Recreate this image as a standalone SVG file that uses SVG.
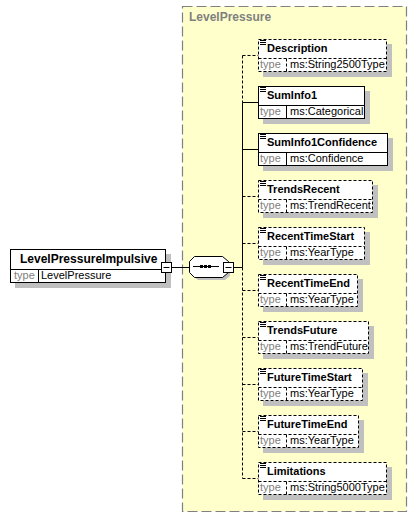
<svg xmlns="http://www.w3.org/2000/svg" width="417" height="517" viewBox="0 0 417 517">
<style>
.panel{fill:#ffffcc;stroke:#808080;stroke-width:1.2;stroke-dasharray:10,4}
.plabel{font-family:"Liberation Sans",Arial,sans-serif;font-size:12px;font-weight:bold;fill:#808080}
.box{fill:#ffffff;stroke:#000;stroke-width:1}
.opt{stroke-dasharray:3,2}
.shadow{fill:#c0c0c0}
.sep{stroke:#000;stroke-width:1;fill:none}
.sepopt{stroke:#000;stroke-width:1;fill:none;stroke-dasharray:3,2}
.name{font-family:"Liberation Sans",Arial,sans-serif;font-size:11px;font-weight:bold;fill:#000}
.mname{font-family:"Liberation Sans",Arial,sans-serif;font-size:12px;font-weight:bold;fill:#000}
.tl{font-family:"Liberation Sans",Arial,sans-serif;font-size:11px;fill:#808080}
.tv{font-family:"Liberation Sans",Arial,sans-serif;font-size:11px;fill:#000}
.ln{stroke:#000;stroke-width:1;fill:none}
.lnd{stroke:#000;stroke-width:1;fill:none;stroke-dasharray:3,2}
.icon{stroke:#000;stroke-width:1;fill:none}
</style>
<g id="panel">
<rect class="panel" x="182.5" y="6.5" width="224" height="505"/>
<text class="plabel" x="189" y="21">LevelPressure</text>
</g>
<g id="connectors">
<line class="ln" x1="172" y1="267.5" x2="189" y2="267.5"/>
<line class="ln" x1="234" y1="267.5" x2="242.5" y2="267.5"/>
<line class="lnd" x1="242.5" y1="55.5" x2="242.5" y2="102.5"/>
<line class="ln" x1="242.5" y1="102.5" x2="242.5" y2="267.5"/>
<line class="lnd" x1="242.5" y1="267.5" x2="242.5" y2="478.5"/>
<line class="lnd" x1="242.5" y1="55.5" x2="258.5" y2="55.5"/>
<line class="ln" x1="242.5" y1="102.5" x2="258.5" y2="102.5"/>
<line class="ln" x1="242.5" y1="149.5" x2="258.5" y2="149.5"/>
<line class="lnd" x1="242.5" y1="196.5" x2="258.5" y2="196.5"/>
<line class="lnd" x1="242.5" y1="243.5" x2="258.5" y2="243.5"/>
<line class="lnd" x1="242.5" y1="290.5" x2="258.5" y2="290.5"/>
<line class="lnd" x1="242.5" y1="337.5" x2="258.5" y2="337.5"/>
<line class="lnd" x1="242.5" y1="384.5" x2="258.5" y2="384.5"/>
<line class="lnd" x1="242.5" y1="431.5" x2="258.5" y2="431.5"/>
<line class="lnd" x1="242.5" y1="478.5" x2="258.5" y2="478.5"/>
</g>
<g id="LevelPressureImpulsive">
<rect class="shadow" x="15" y="254" width="156" height="34"/>
<rect class="box" x="10.5" y="249.5" width="155" height="33"/>
<line class="sep" x1="10.5" y1="269.5" x2="165.5" y2="269.5"/>
<line class="sep" x1="38.5" y1="269.5" x2="38.5" y2="282.5"/>
<text class="mname" x="20" y="263">LevelPressureImpulsive</text>
<text class="tl" x="14" y="279">type</text>
<text class="tv" x="41" y="279">LevelPressure</text>
<rect class="box" x="161.5" y="262.5" width="10" height="10"/>
<line class="ln" x1="163.5" y1="267.5" x2="169.5" y2="267.5"/>
</g>
<g id="sequence">
<polygon class="shadow" points="198,259 225,259 230,264 230,276 225,280 198,280 193,276 193,264"/>
<polygon class="box" points="194.5,256.5 222.5,256.5 228.5,261.5 228.5,272.5 222.5,277.5 194.5,277.5 189.5,272.5 189.5,261.5"/>
<line class="ln" x1="193" y1="266.5" x2="219" y2="266.5"/>
<rect x="200" y="265" width="3" height="3" fill="#000"/>
<rect x="204" y="265" width="3" height="3" fill="#000"/>
<rect x="208" y="265" width="3" height="3" fill="#000"/>
<rect class="box" x="223.5" y="262.5" width="10" height="10"/>
<line class="ln" x1="225.5" y1="267.5" x2="231.5" y2="267.5"/>
</g>
<g id="Description">
<rect class="shadow" x="263" y="44" width="129" height="33"/>
<rect class="box opt" x="258.5" y="39.5" width="128" height="32"/>
<line class="sepopt" x1="258.5" y1="58.5" x2="386.5" y2="58.5"/>
<line class="sepopt" x1="286.5" y1="58.5" x2="286.5" y2="71.5"/>
<path class="icon" d="M260 40.5h6M260 42.5h6M260 44.5h6"/>
<text class="name" x="267" y="52">Description</text>
<text class="tl" x="260" y="68">type</text>
<text class="tv" x="290" y="68">ms:String2500Type</text>
</g>
<g id="SumInfo1">
<rect class="shadow" x="263" y="91" width="107" height="33"/>
<rect class="box" x="258.5" y="86.5" width="106" height="32"/>
<line class="sep" x1="258.5" y1="105.5" x2="364.5" y2="105.5"/>
<line class="sep" x1="286.5" y1="105.5" x2="286.5" y2="118.5"/>
<path class="icon" d="M260 87.5h6M260 89.5h6M260 91.5h6"/>
<text class="name" x="267" y="99">SumInfo1</text>
<text class="tl" x="260" y="115">type</text>
<text class="tv" x="290" y="115">ms:Categorical</text>
</g>
<g id="SumInfo1Confidence">
<rect class="shadow" x="263" y="138" width="130" height="33"/>
<rect class="box" x="258.5" y="133.5" width="129" height="32"/>
<line class="sep" x1="258.5" y1="152.5" x2="387.5" y2="152.5"/>
<line class="sep" x1="286.5" y1="152.5" x2="286.5" y2="165.5"/>
<path class="icon" d="M260 134.5h6M260 136.5h6M260 138.5h6"/>
<text class="name" x="267" y="146">SumInfo1Confidence</text>
<text class="tl" x="260" y="162">type</text>
<text class="tv" x="290" y="162">ms:Confidence</text>
</g>
<g id="TrendsRecent">
<rect class="shadow" x="263" y="185" width="115" height="33"/>
<rect class="box opt" x="258.5" y="180.5" width="114" height="32"/>
<line class="sepopt" x1="258.5" y1="199.5" x2="372.5" y2="199.5"/>
<line class="sepopt" x1="286.5" y1="199.5" x2="286.5" y2="212.5"/>
<path class="icon" d="M260 181.5h6M260 183.5h6M260 185.5h6"/>
<text class="name" x="267" y="193">TrendsRecent</text>
<text class="tl" x="260" y="209">type</text>
<text class="tv" x="290" y="209">ms:TrendRecent</text>
</g>
<g id="RecentTimeStart">
<rect class="shadow" x="263" y="232" width="107" height="33"/>
<rect class="box opt" x="258.5" y="227.5" width="106" height="32"/>
<line class="sepopt" x1="258.5" y1="246.5" x2="364.5" y2="246.5"/>
<line class="sepopt" x1="286.5" y1="246.5" x2="286.5" y2="259.5"/>
<path class="icon" d="M260 228.5h6M260 230.5h6M260 232.5h6"/>
<text class="name" x="267" y="240">RecentTimeStart</text>
<text class="tl" x="260" y="256">type</text>
<text class="tv" x="290" y="256">ms:YearType</text>
</g>
<g id="RecentTimeEnd">
<rect class="shadow" x="263" y="279" width="100" height="33"/>
<rect class="box opt" x="258.5" y="274.5" width="99" height="32"/>
<line class="sepopt" x1="258.5" y1="293.5" x2="357.5" y2="293.5"/>
<line class="sepopt" x1="286.5" y1="293.5" x2="286.5" y2="306.5"/>
<path class="icon" d="M260 275.5h6M260 277.5h6M260 279.5h6"/>
<text class="name" x="267" y="287">RecentTimeEnd</text>
<text class="tl" x="260" y="303">type</text>
<text class="tv" x="290" y="303">ms:YearType</text>
</g>
<g id="TrendsFuture">
<rect class="shadow" x="263" y="326" width="111" height="33"/>
<rect class="box opt" x="258.5" y="321.5" width="110" height="32"/>
<line class="sepopt" x1="258.5" y1="340.5" x2="368.5" y2="340.5"/>
<line class="sepopt" x1="286.5" y1="340.5" x2="286.5" y2="353.5"/>
<path class="icon" d="M260 322.5h6M260 324.5h6M260 326.5h6"/>
<text class="name" x="267" y="334">TrendsFuture</text>
<text class="tl" x="260" y="350">type</text>
<text class="tv" x="290" y="350">ms:TrendFuture</text>
</g>
<g id="FutureTimeStart">
<rect class="shadow" x="263" y="373" width="105" height="33"/>
<rect class="box opt" x="258.5" y="368.5" width="104" height="32"/>
<line class="sepopt" x1="258.5" y1="387.5" x2="362.5" y2="387.5"/>
<line class="sepopt" x1="286.5" y1="387.5" x2="286.5" y2="400.5"/>
<path class="icon" d="M260 369.5h6M260 371.5h6M260 373.5h6"/>
<text class="name" x="267" y="381">FutureTimeStart</text>
<text class="tl" x="260" y="397">type</text>
<text class="tv" x="290" y="397">ms:YearType</text>
</g>
<g id="FutureTimeEnd">
<rect class="shadow" x="263" y="420" width="101" height="33"/>
<rect class="box opt" x="258.5" y="415.5" width="100" height="32"/>
<line class="sepopt" x1="258.5" y1="434.5" x2="358.5" y2="434.5"/>
<line class="sepopt" x1="286.5" y1="434.5" x2="286.5" y2="447.5"/>
<path class="icon" d="M260 416.5h6M260 418.5h6M260 420.5h6"/>
<text class="name" x="267" y="428">FutureTimeEnd</text>
<text class="tl" x="260" y="444">type</text>
<text class="tv" x="290" y="444">ms:YearType</text>
</g>
<g id="Limitations">
<rect class="shadow" x="263" y="467" width="129" height="33"/>
<rect class="box opt" x="258.5" y="462.5" width="128" height="32"/>
<line class="sepopt" x1="258.5" y1="481.5" x2="386.5" y2="481.5"/>
<line class="sepopt" x1="286.5" y1="481.5" x2="286.5" y2="494.5"/>
<path class="icon" d="M260 463.5h6M260 465.5h6M260 467.5h6"/>
<text class="name" x="267" y="475">Limitations</text>
<text class="tl" x="260" y="491">type</text>
<text class="tv" x="290" y="491">ms:String5000Type</text>
</g>
</svg>
